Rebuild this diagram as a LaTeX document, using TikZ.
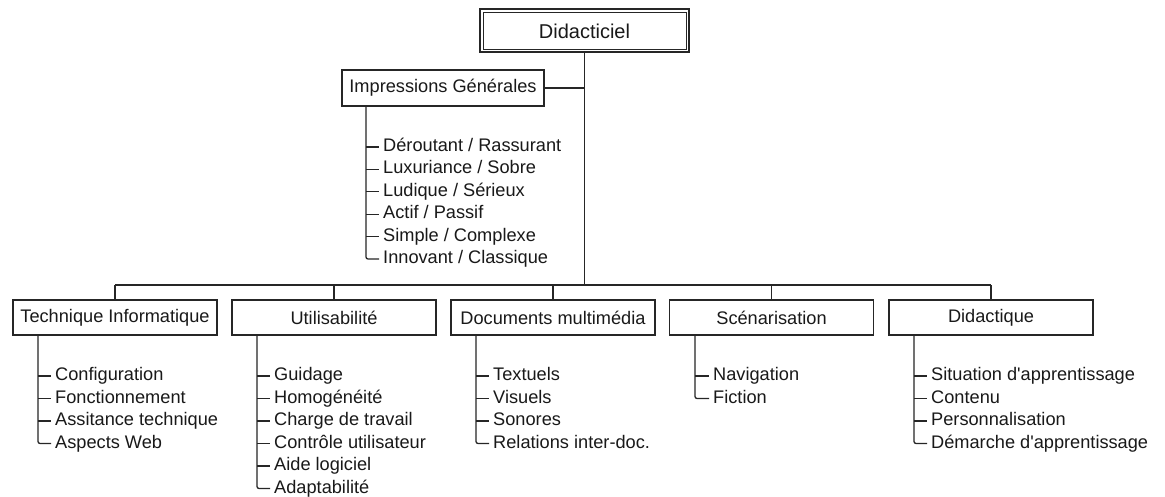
\documentclass[tikz,border=0pt]{standalone}
\usepackage{fontspec}
\setmainfont{Liberation Sans}
\begin{document}
\begin{tikzpicture}[x=1pt,y=-1pt,
  ln/.style={line width=1.3pt, draw=black!85},
  box/.style={draw=black!85, line width=1.3pt, minimum width=204pt, minimum height=35pt,
    inner sep=0pt, outer sep=0pt, font=\fontsize{18.2}{22}\selectfont, text=black!90},
  leaf/.style={anchor=west, inner xsep=4pt, inner ysep=0pt, text height=13pt, text depth=4pt,
    font=\fontsize{18.2}{22}\selectfont, text=black!90}
]
\useasboundingbox[fill=white] (0,0) rectangle (1165,497);
% root
\node[box, line width=2pt, minimum width=209pt, minimum height=43pt,
  font=\fontsize{20}{24}\selectfont] (top) at (584.5,31) {Didacticiel};
\draw[line width=0.9pt, black!85] ([shift={(3pt,-3pt)}]top.north west) rectangle ([shift={(-3pt,3pt)}]top.south east);
% impressions
\node[box, minimum width=202pt, minimum height=36pt] (imp) at (443,88) {Impressions Générales};
% level boxes
\node[box] (t1) at (115,317.5) {Technique Informatique};
\node[box] (t2) at (334,317.5) {Utilisabilité};
\node[box] (t3) at (553,317.5) {Documents multimédia};
\node[box] (t4) at (771.5,317.5) {Scénarisation};
\node[box] (t5) at (991,317.5) {Didactique};
% connectors
\coordinate (bus) at (0,285);
\draw[ln] (top.south) -- (top.south |- bus);
\draw[ln] (t1.north |- bus) -- (t5.north |- bus);
\foreach \n in {t1,t2,t3,t4,t5} \draw[ln] (\n.north |- bus) -- (\n.north);
\draw[ln] (imp.east) -- (imp.east -| top.south);
% leaves: impressions
\coordinate (vimp) at ([xshift=24pt]imp.south west);
\foreach \t [count=\i] in {Déroutant / Rassurant, Luxuriance / Sobre, Ludique / Sérieux,
  Actif / Passif, Simple / Complexe, Innovant / Classique}
  \node[leaf] (imp-\i) at (379,{147+22.4*(\i-1)}) {\t};
\draw[ln, rounded corners=2pt] (vimp) |- (imp-6.west);
\foreach \i in {1,...,5} \draw[ln] (vimp |- imp-\i.west) -- (imp-\i.west);
% leaves: technique
\coordinate (v1) at ([xshift=25pt]t1.south west);
\foreach \t [count=\i] in {Configuration, Fonctionnement, Assitance technique, Aspects Web}
  \node[leaf] (a-\i) at (51,{376+22.5*(\i-1)}) {\t};
\draw[ln, rounded corners=2pt] (v1) |- (a-4.west);
\foreach \i in {1,...,3} \draw[ln] (v1 |- a-\i.west) -- (a-\i.west);
% leaves: utilisabilite
\coordinate (v2) at ([xshift=25pt]t2.south west);
\foreach \t [count=\i] in {Guidage, Homogénéité, Charge de travail, Contrôle utilisateur, Aide logiciel, Adaptabilité}
  \node[leaf] (b-\i) at (270,{376+22.5*(\i-1)}) {\t};
\draw[ln, rounded corners=2pt] (v2) |- (b-6.west);
\foreach \i in {1,...,5} \draw[ln] (v2 |- b-\i.west) -- (b-\i.west);
% leaves: documents
\coordinate (v3) at ([xshift=25pt]t3.south west);
\foreach \t [count=\i] in {Textuels, Visuels, Sonores, Relations inter-doc.}
  \node[leaf] (c-\i) at (489,{376+22.5*(\i-1)}) {\t};
\draw[ln, rounded corners=2pt] (v3) |- (c-4.west);
\foreach \i in {1,...,3} \draw[ln] (v3 |- c-\i.west) -- (c-\i.west);
% leaves: scenarisation
\coordinate (v4) at ([xshift=25.5pt]t4.south west);
\foreach \t [count=\i] in {Navigation, Fiction}
  \node[leaf] (d-\i) at (709,{376+22.5*(\i-1)}) {\t};
\draw[ln, rounded corners=2pt] (v4) |- (d-2.west);
\draw[ln] (v4 |- d-1.west) -- (d-1.west);
% leaves: didactique
\coordinate (v5) at ([xshift=25pt]t5.south west);
\foreach \t [count=\i] in {Situation d\textquotesingle apprentissage, Contenu, Personnalisation, Démarche d\textquotesingle apprentissage}
  \node[leaf] (e-\i) at (927,{376+22.5*(\i-1)}) {\t};
\draw[ln, rounded corners=2pt] (v5) |- (e-4.west);
\foreach \i in {1,...,3} \draw[ln] (v5 |- e-\i.west) -- (e-\i.west);
\end{tikzpicture}
\end{document}
